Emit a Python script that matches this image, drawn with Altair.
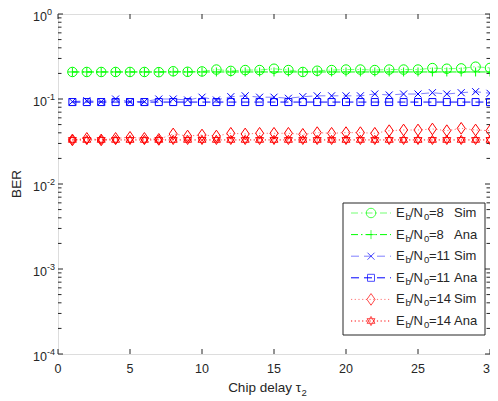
import altair as alt
import pandas as pd

# ---------------- data ----------------
delay = list(range(1, 31))

sim8 = [0.208, 0.208, 0.208, 0.208, 0.208, 0.208, 0.207, 0.212, 0.209, 0.211,
        0.222, 0.214, 0.219, 0.219, 0.227, 0.219, 0.208, 0.215, 0.219, 0.222,
        0.222, 0.219, 0.222, 0.222, 0.222, 0.231, 0.227, 0.229, 0.240, 0.232]
ana8 = [0.208, 0.208, 0.208, 0.208, 0.208, 0.208, 0.208, 0.208, 0.208, 0.208,
        0.208, 0.208, 0.208, 0.208, 0.208, 0.208, 0.208, 0.208, 0.208, 0.208,
        0.208, 0.208, 0.208, 0.208, 0.208, 0.208, 0.208, 0.208, 0.208, 0.208]
sim11 = [0.093, 0.0955, 0.093, 0.100, 0.093, 0.093, 0.100, 0.100, 0.0973, 0.105,
         0.0973, 0.1065, 0.109, 0.105, 0.105, 0.102, 0.1065, 0.109, 0.109, 0.109,
         0.109, 0.1145, 0.1114, 0.1145, 0.1145, 0.1186, 0.1145, 0.1186, 0.122, 0.1167]
ana11 = [0.092, 0.092, 0.092, 0.092, 0.092, 0.092, 0.092, 0.092, 0.092, 0.092,
         0.092, 0.092, 0.092, 0.092, 0.092, 0.092, 0.092, 0.092, 0.092, 0.092,
         0.092, 0.092, 0.092, 0.092, 0.092, 0.092, 0.092, 0.092, 0.092, 0.092]
sim14 = [0.033, 0.0344, 0.033, 0.0344, 0.0354, 0.0344, 0.0335, 0.0388, 0.0367, 0.0377,
         0.0367, 0.0395, 0.0388, 0.0395, 0.0395, 0.0395, 0.0384, 0.0402, 0.0395, 0.0402,
         0.0402, 0.0395, 0.0424, 0.0432, 0.0432, 0.0444, 0.0424, 0.0452, 0.0432, 0.0424]
ana14 = [0.033, 0.033, 0.033, 0.033, 0.033, 0.033, 0.033, 0.033, 0.033, 0.033,
         0.033, 0.033, 0.033, 0.033, 0.033, 0.033, 0.033, 0.033, 0.033, 0.033,
         0.033, 0.033, 0.033, 0.033, 0.033, 0.033, 0.033, 0.033, 0.033, 0.033]

snr_labels = ["=8", "=8", "=11", "=11", "=14", "=14"]
kind_labels = ["Sim", "Ana", "Sim", "Ana", "Sim", "Ana"]
x_tick_values = [0, 5, 10, 15, 20, 25, 30]
x_tick_labels = ["0", "5", "10", "15", "20", "25", "30"]
y_major = [1e-4, 1e-3, 1e-2, 1e-1, 1.0]
y_exponents = ["-4", "-3", "-2", "-1", "0"]
y_minor = [k * 10.0 ** e for e in range(-4, 0) for k in range(2, 10)]

# ---------------- styling ----------------
FONT = "Liberation Sans"
AX = "#262626"
GREEN, BLUE, RED = "#00ff00", "#0000ff", "#ff0000"
DASHDOT = [7, 3, 1.5, 3]
DASHED = [8, 5]
DOTTED = [1.2, 2.5]
PLUS = "M-1,0L1,0M0,-1L0,1"
XSHAPE = "M-1,-1L1,1M-1,1L1,-1"
DIAMOND = "M0,-1.3L0.9,0L0,1.3L-0.9,0Z"
HEXAGRAM = "M0,-1.15L1,0.58L-1,0.58Z M0,1.15L1,-0.58L-1,-0.58Z"

W, H = 432, 340

series = [
    (sim8, GREEN, DASHDOT, "circle", 90, 0.55),
    (ana8, GREEN, DASHDOT, PLUS, 81, 1.0),
    (sim11, BLUE, DASHED, XSHAPE, 49, 0.5),
    (ana11, BLUE, DASHED, "square", 49, 1.0),
    (sim14, RED, DOTTED, DIAMOND, 81, 0.55),
    (ana14, RED, DOTTED, HEXAGRAM, 64, 1.0),
]

xscale = alt.Scale(domain=[0, 30], nice=False, zero=False)
yscale = alt.Scale(type="log", domain=[1e-4, 1], nice=False)

def X():
    return alt.X("delay:Q", scale=xscale, axis=None)

def Y():
    return alt.Y("ber:Q", scale=yscale, axis=None)

layers = []
dummy = pd.DataFrame({"d": [0]})

# ticks (inward, mirrored)
yt_major = pd.DataFrame({"ber": y_major})
yt_minor = pd.DataFrame({"ber": y_minor})
for df, ln in ((yt_major, 5), (yt_minor, 3.5)):
    layers.append(alt.Chart(df).mark_rule(color=AX, strokeWidth=1).encode(
        y=Y(), x=alt.value(0), x2=alt.value(ln)))
    layers.append(alt.Chart(df).mark_rule(color=AX, strokeWidth=1).encode(
        y=Y(), x=alt.value(W), x2=alt.value(W - ln)))
xt = pd.DataFrame({"delay": x_tick_values, "lab": x_tick_labels})
layers.append(alt.Chart(xt).mark_rule(color=AX, strokeWidth=1).encode(
    x=X(), y=alt.value(H), y2=alt.value(H - 5)))
layers.append(alt.Chart(xt).mark_rule(color=AX, strokeWidth=1).encode(
    x=X(), y=alt.value(0), y2=alt.value(5)))
# x tick labels
layers.append(alt.Chart(xt).mark_text(align="center", baseline="middle", fontSize=12.5,
                                      font=FONT, color=AX).encode(
    x=X(), y=alt.value(H + 15), text="lab:N"))

# y tick labels with superscript exponents
ylab = pd.DataFrame({"ber": y_major, "exp": y_exponents, "base": ["10"] * 5})
layers.append(alt.Chart(ylab).mark_text(align="right", baseline="middle", dy=3,
                                        fontSize=12.5, font=FONT, color=AX).encode(
    y=Y(), x=alt.value(-11), text="base:N"))
layers.append(alt.Chart(ylab).mark_text(align="left", baseline="middle", dy=-2,
                                        fontSize=9, font=FONT, color=AX).encode(
    y=Y(), x=alt.value(-11), text="exp:N"))

# axis titles
layers.append(alt.Chart(dummy).mark_text(angle=270, fontSize=13.5, font=FONT, color=AX,
                                         baseline="middle", align="center", text="BER").encode(
    x=alt.value(-41), y=alt.value(H / 2)))
layers.append(alt.Chart(dummy).mark_text(fontSize=13.5, font=FONT, color=AX,
                                         baseline="middle", align="right", text="Chip delay τ").encode(
    x=alt.value(W / 2 + 27), y=alt.value(H + 34)))
layers.append(alt.Chart(dummy).mark_text(fontSize=9.5, font=FONT, color=AX,
                                         baseline="middle", align="left", text="2").encode(
    x=alt.value(W / 2 + 27.5), y=alt.value(H + 39)))

# data lines + markers
for vals, col, dash, shape, size, lop in series:
    df = pd.DataFrame({"delay": delay, "ber": vals})
    layers.append(alt.Chart(df).mark_line(color=col, strokeDash=dash, strokeWidth=1,
                                          opacity=lop, clip=True).encode(x=X(), y=Y()))
    layers.append(alt.Chart(df).mark_point(color=col, shape=shape, size=size, filled=False,
                                           strokeWidth=1, opacity=1, clip=True).encode(x=X(), y=Y()))

# legend (manual, to allow subscripts)
LX0, LY0, LX1, LY1 = 285, 189, 427, 321
layers.append(alt.Chart(dummy).mark_rect(fill="white", stroke=AX, strokeWidth=1).encode(
    x=alt.value(LX0), x2=alt.value(LX1), y=alt.value(LY0), y2=alt.value(LY1)))
for i, (vals, col, dash, shape, size, lop) in enumerate(series):
    yy = 199 + 21.6 * i
    layers.append(alt.Chart(dummy).mark_rule(color=col, strokeDash=dash, strokeWidth=1,
                                             opacity=lop).encode(
        x=alt.value(293), x2=alt.value(333), y=alt.value(yy)))
    layers.append(alt.Chart(dummy).mark_point(color=col, shape=shape, size=size, filled=False,
                                              strokeWidth=1).encode(
        x=alt.value(313), y=alt.value(yy)))
    parts = [("E", 338, 13, 0), ("b", 347.5, 9.5, 4), ("/N", 352, 13, 0),
             ("0", 366, 9.5, 4), (snr_labels[i], 371, 13, 0), (kind_labels[i], 396, 13, 0)]
    for txt, px, fs, dy in parts:
        layers.append(alt.Chart(dummy).mark_text(align="left", baseline="middle", dy=dy,
                                                 fontSize=fs, font=FONT, color=AX, text=txt).encode(
            x=alt.value(px), y=alt.value(yy)))

chart = alt.layer(*layers).properties(
    width=W, height=H,
    autosize=alt.AutoSizeParams(type="none"),
    padding={"left": 50, "top": 6, "right": 0, "bottom": 45},
).configure_view(stroke=AX, strokeWidth=1).configure(background="white")

chart.save("out.html", embed_options={"renderer": "svg", "actions": False})
